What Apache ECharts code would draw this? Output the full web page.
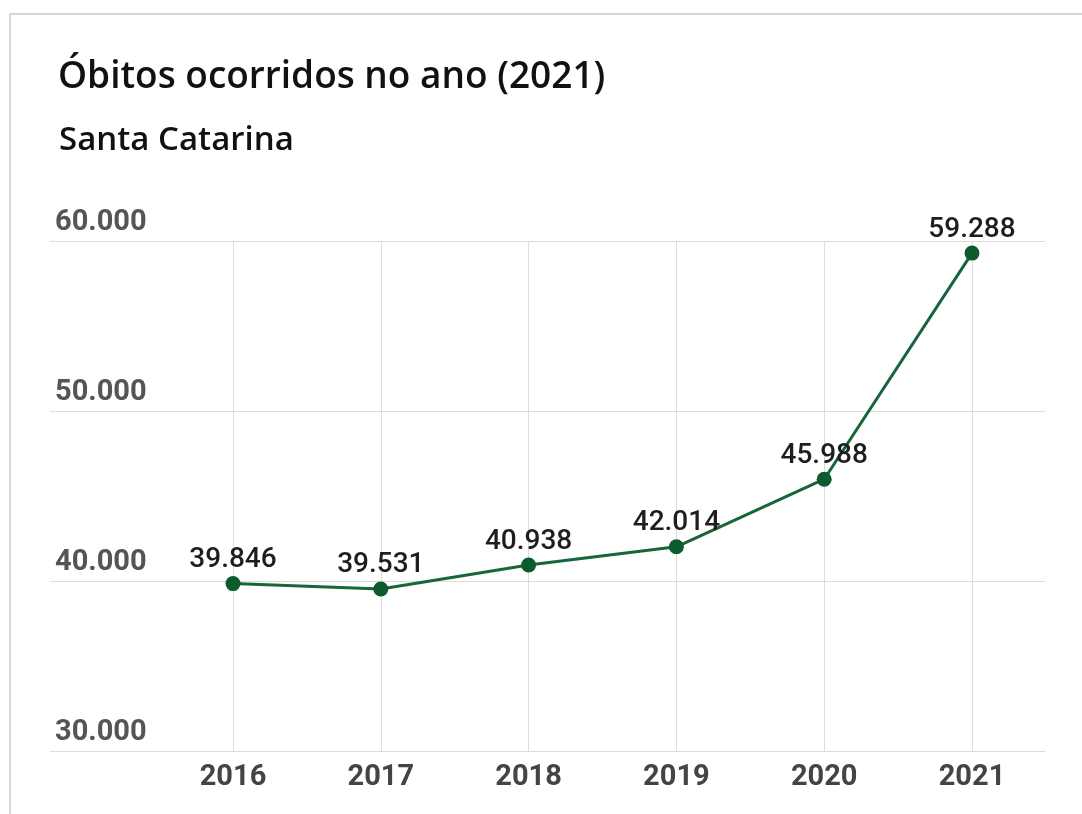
<!DOCTYPE html>
<html>
<head>
<meta charset="utf-8">
<script src="https://cdn.jsdelivr.net/npm/echarts@6/dist/echarts.min.js"></script>
<style>
html,body{margin:0;padding:0;background:#fff;}
#c{width:1082px;height:814px;}
</style>
</head>
<body>
<div id="c"></div>
<script>
const titleText = 'Óbitos ocorridos no ano (2021)';
const subtitleText = 'Santa Catarina';
const years = ['2016', '2017', '2018', '2019', '2020', '2021'];
const deaths = [39846, 39531, 40938, 42014, 45988, 59288];
const yMin = 30000, yMax = 60000, yStep = 10000;

const fmt = v => v.toLocaleString('pt-BR');

const chart = echarts.init(document.getElementById('c'), null, {renderer: 'canvas'});
chart.setOption({
  backgroundColor: '#fff',
  animation: false,
  title: [
    {text: titleText, left: 53, top: 54,
     textStyle: {fontFamily: 'Open Sans', fontWeight: 600, fontSize: 37, color: '#111'}},
    {text: subtitleText, left: 54, top: 119,
     textStyle: {fontFamily: 'Open Sans', fontWeight: 600, fontSize: 33, color: '#111'}}
  ],
  graphic: [
    {type: 'line', shape: {x1: 10, y1: 14, x2: 1082, y2: 14}, style: {stroke: '#d6d6d6', lineWidth: 2}},
    {type: 'line', shape: {x1: 10, y1: 14, x2: 10, y2: 814}, style: {stroke: '#d6d6d6', lineWidth: 2}}
  ],
  grid: [
    {left: 50, right: 37, top: 241, bottom: 63},
    {left: 233, right: 110, top: 241, bottom: 63}
  ],
  xAxis: [
    {type: 'category', gridIndex: 0, data: years, show: false},
    {type: 'category', gridIndex: 1, data: years, boundaryGap: false,
     axisLine: {show: false}, axisTick: {show: false},
     axisLabel: {margin: 12, fontFamily: 'Roboto', fontWeight: 'bold', fontSize: 29, color: '#444'},
     splitLine: {show: true, lineStyle: {color: '#dcdcdc', width: 1}}}
  ],
  yAxis: [
    {type: 'value', gridIndex: 0, min: yMin, max: yMax, interval: yStep,
     axisLine: {show: false}, axisTick: {show: false},
     axisLabel: {inside: true, margin: 5, verticalAlign: 'bottom', padding: [0, 0, 4, 0],
                 formatter: v => fmt(v),
                 fontFamily: 'Roboto', fontWeight: 'bold', fontSize: 29, color: '#555'},
     splitLine: {lineStyle: {color: '#dcdcdc', width: 1}}},
    {type: 'value', gridIndex: 1, min: yMin, max: yMax, interval: yStep, show: false,
     splitLine: {show: false}}
  ],
  series: [{
    type: 'line', xAxisIndex: 1, yAxisIndex: 1, data: deaths,
    symbol: 'circle', symbolSize: 15,
    lineStyle: {color: '#17653a', width: 3},
    itemStyle: {color: '#0d5a2d'},
    label: {show: true, position: 'top', distance: 2, formatter: p => fmt(p.value),
            fontFamily: 'Roboto', fontWeight: 500, fontSize: 28, color: '#1e1e1e'}
  }]
});
</script>
</body>
</html>
